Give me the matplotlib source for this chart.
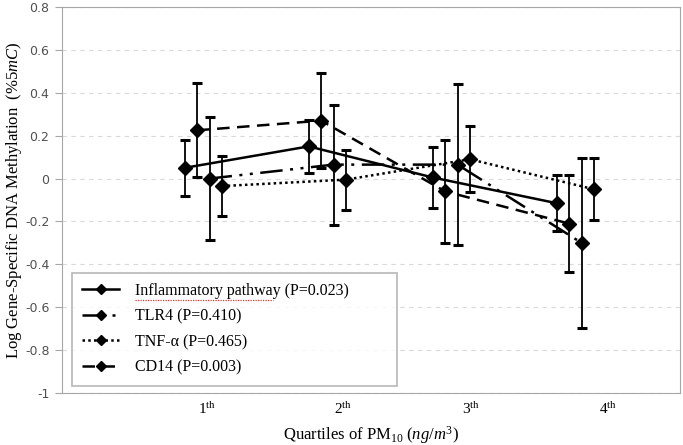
import matplotlib

matplotlib.use("Agg")
import matplotlib.pyplot as plt
from matplotlib.lines import Line2D

plt.rcParams["font.family"] = ["Liberation Serif", "DejaVu Serif"]
plt.rcParams["mathtext.fontset"] = "custom"
plt.rcParams["mathtext.rm"] = "Liberation Serif"
plt.rcParams["mathtext.it"] = "Liberation Serif:italic"

# quartile data
quartiles = [1, 2, 3, 4]
tick_labels = ["1$^{\\mathrm{th}}$", "2$^{\\mathrm{th}}$", "3$^{\\mathrm{th}}$", "4$^{\\mathrm{th}}$"]

inflam = [0.05, 0.15, 0.005, -0.115]
inflam_err = [0.13, 0.125, 0.14, 0.13]
tlr4 = [0.0, 0.065, 0.065, -0.30]
tlr4_err = [0.285, 0.28, 0.375, 0.395]
tnf = [-0.035, -0.005, 0.09, -0.05]
tnf_err = [0.14, 0.14, 0.155, 0.145]
cd14 = [0.225, 0.27, -0.06, -0.21]
cd14_err = [0.22, 0.22, 0.24, 0.225]

series = [
    ("Inflammatory pathway (P=0.023)", inflam, inflam_err, -0.01, "-"),
    ("TLR4 (P=0.410)", tlr4, tlr4_err, 0.19, (0, (9, 3, 1.2, 3, 1.2, 3))),
    ("TNF-α (P=0.465)", tnf, tnf_err, 0.29, (0, (1, 1.3))),
    ("CD14 (P=0.003)", cd14, cd14_err, 0.09, (0, (5, 3))),
]

fig = plt.figure(figsize=(6.83, 4.45), dpi=100)
ax = fig.add_axes([62 / 683, 52 / 445, 618 / 683, 386 / 445])

handles = []
for label, vals, errs, off, ls in series:
    xs = [q + off for q in quartiles]
    ax.errorbar(xs, vals, yerr=errs, fmt="none", ecolor="black",
                elinewidth=1.3, capsize=3.3, capthick=2.2, zorder=3)
    ax.plot(xs, vals, color="black", linestyle=ls, linewidth=1.8,
            marker="D", markersize=7.5, zorder=4)
    handles.append(Line2D([], [], color="black", linestyle=ls, linewidth=1.8,
                          marker="D", markersize=5.5))

ax.set_xlim(0, 618 / 124)
ax.set_ylim(-1, 0.8)
ax.set_yticks([-1, -0.8, -0.6, -0.4, -0.2, 0, 0.2, 0.4, 0.6, 0.8])
ax.set_yticklabels(["-1", "-0.8", "-0.6", "-0.4", "-0.2", "0", "0.2", "0.4", "0.6", "0.8"],
                   family="DejaVu Sans", fontsize=9, color="#505050")
ax.set_xticks([1.17, 2.27, 3.30, 4.40])
ax.set_xticklabels(tick_labels, fontsize=11)
ax.tick_params(axis="x", length=0, pad=6)
ax.tick_params(axis="y", length=5, color="#a6a6a6", pad=4)
ax.yaxis.grid(True, linestyle=(0, (4, 4)), color="#d9d9d9", linewidth=0.8)
ax.set_axisbelow(True)
for sp in ax.spines.values():
    sp.set_color("#a6a6a6")

leg = ax.legend(handles, [s[0] for s in series], loc="lower left", mode="expand",
                bbox_to_anchor=(0.016, 0.018, 0.526, 0.295), fontsize=11.5,
                frameon=True, fancybox=False, edgecolor="#a6a6a6",
                handlelength=2.3, handletextpad=1.0, labelspacing=0.6,
                borderpad=0.65, borderaxespad=0)
leg.get_frame().set_linewidth(1.2)

fig.text(14 / 683, 0.55, "Log Gene-Specific DNA Methylation  $\\mathit{(\\%5mC)}$",
         rotation=90, ha="center", va="center", fontsize=12)
fig.text(371 / 683, 1 - 435 / 445, "Quartiles of PM$_{10}$ $\\mathit{(ng/m^3)}$",
         ha="center", va="center", fontsize=12)

# spell-check squiggle under "Inflammatory pathway"
fig.canvas.draw()
renderer = fig.canvas.get_renderer()
first = leg.get_texts()[0]
bb = first.get_window_extent(renderer)
frac = len("Inflammatory pathway") / len(first.get_text())
x0, y0 = fig.transFigure.inverted().transform((bb.x0, bb.y0 - 1))
x1, _ = fig.transFigure.inverted().transform((bb.x0 + bb.width * frac * 0.97, bb.y0))
fig.add_artist(Line2D([x0, x1], [y0, y0], color="#e03030", linewidth=0.9,
                      linestyle=(0, (1, 1))))

fig.savefig("out.png", dpi=100)
